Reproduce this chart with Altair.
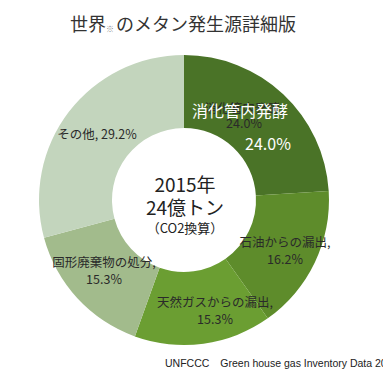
import altair as alt
import pandas as pd

# ---- data ----
categories = ["消化管内発酵", "石油からの漏出", "天然ガスからの漏出", "固形廃棄物の処分", "その他"]
values = [24.0, 16.2, 15.3, 15.3, 29.2]
slice_colors = ["#4a7327", "#5e8c2b", "#6b9e32", "#a2bb8c", "#c3d5bd"]

title_parts = ["世界", "※", "のメタン発生源詳細版"]
center_lines = ["2015年", "24億トン", "（CO2換算）"]
source_text = "UNFCCC　Green house gas Inventory Data 2015(\u2026"

FONT = "Noto Sans CJK JP"

df = pd.DataFrame({"cat": categories, "value": values, "idx": list(range(len(values)))})

# ---- layout (chart coords = page coords - 8) ----
CX, CY = 176, 192

donut = alt.Chart(df).mark_arc(innerRadius=72, outerRadius=145).encode(
    theta=alt.Theta("value:Q", stack=True),
    color=alt.Color("cat:N", scale=alt.Scale(domain=categories, range=slice_colors), legend=None),
    order=alt.Order("idx:Q"),
    x=alt.value(CX),
    y=alt.value(CY),
)

# label texts with layout positions
lab_text = [
    "消化管内発酵,", "24.0%",
    "消化管内発酵", "24.0%",
    "その他, 29.2%",
    "石油からの漏出,", "16.2%",
    "天然ガスからの漏出,", "15.3%",
    "固形廃棄物の処分,", "15.3%",
]
lab_x = [236, 236, 232, 260, 89, 277, 277, 207, 207, 96, 96]
lab_y = [101, 116, 104, 137, 127, 235, 252, 295, 312, 255, 272]
lab_size = [12.5, 12.5, 16, 16, 12.5, 12.5, 12.5, 12.5, 12.5, 12.5, 12.5]
lab_color = ["#2a2a2a", "#2a2a2a", "#ffffff", "#ffffff", "#2a2a2a", "#2a2a2a", "#2a2a2a",
             "#2a2a2a", "#2a2a2a", "#2a2a2a", "#2a2a2a"]
labels_df = pd.DataFrame({"t": lab_text, "x": lab_x, "y": lab_y, "s": lab_size, "c": lab_color})

labels = alt.Chart(labels_df).mark_text(font=FONT, baseline="middle", align="center").encode(
    text="t:N",
    x=alt.X("x:Q", scale=None),
    y=alt.Y("y:Q", scale=None),
    size=alt.Size("s:Q", scale=None, legend=None),
    color=alt.Color("c:N", scale=None, legend=None),
)

def txt(t, x, y, size, color="#222222", align="center", base="middle"):
    return alt.Chart(pd.DataFrame({"t": [t]})).mark_text(
        font=FONT, fontSize=size, color=color, align=align, baseline=base
    ).encode(text="t:N", x=alt.value(x), y=alt.value(y))

title = (
    txt(title_parts[0], 62, 18, 18, "#333333", "left")
    + txt(title_parts[1], 98, 22, 8, "#888888", "left")
    + txt(title_parts[2], 108, 18, 18, "#333333", "left")
)

center = (
    txt(center_lines[0], CX + 1, 178, 19)
    + txt(center_lines[1], CX + 1, 201, 19)
    + txt(center_lines[2], CX + 1, 221, 13)
)

source = alt.Chart(pd.DataFrame({"t": [source_text]})).mark_text(
    font="Liberation Sans", fontSize=10.5, color="#222222", align="left", baseline="middle"
).encode(text="t:N", x=alt.value(157), y=alt.value(356))

chart = alt.layer(donut, labels, title, center, source).properties(
    width=375, height=364, autosize=alt.AutoSizeParams(type="none"), padding=0
).configure_view(strokeWidth=0)

chart.save("out.html", embed_options={"renderer": "svg", "actions": False})
